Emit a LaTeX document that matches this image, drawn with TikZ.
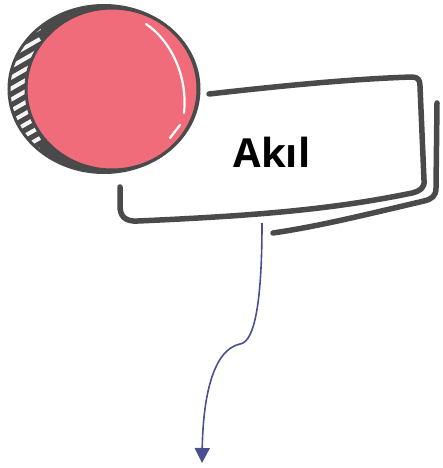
\documentclass[tikz,border=0pt]{standalone}
\usepackage{fontspec}
\setmainfont{Open Sans}
\usetikzlibrary{arrows.meta}
\definecolor{pinkf}{HTML}{F06C7A}
\definecolor{graydk}{HTML}{4A4A4A}
\definecolor{arrowc}{HTML}{4B4F91}
\tikzset{
  frameline/.style={draw=graydk, line width=5.5pt, line cap=round, line join=round},
  conn/.style={draw=arrowc, line width=1.6pt, -{Triangle[length=15pt,width=15pt]}},
}
\begin{document}
\begin{tikzpicture}[x=1pt,y=-1pt]
\useasboundingbox (0,0) rectangle (442,468);
% crescent
\begin{scope}
  \clip (104,89) ellipse [x radius=95, y radius=83.5];
  \fill[graydk] (104,89) ellipse [x radius=95, y radius=83.5];
  \foreach \t in {0,...,18} {
    \draw[white!92!gray, line width=4pt] (0,{\t*11-15}) -- (40,{\t*11-38});
  }
\end{scope}
\draw[graydk, line width=3pt] (104,89) ellipse [x radius=95, y radius=83.5];
% pink ball
\fill[pinkf] (112,89) ellipse [x radius=86, y radius=81];
\draw[graydk, line width=3pt] (112,89) ellipse [x radius=86, y radius=81];
% highlight
\draw[white, line width=2.2pt, line cap=round] (146,24) .. controls (170,40) and (188,75) .. (184,113);
\draw[white, line width=2.2pt, line cap=round] (180,125) -- (170,138);
% frame
\draw[frameline] (209,94) .. controls (280,86) and (350,79) .. (412,77)
  .. controls (418,77) and (420,80) .. (420,86)
  -- (424,180)
  .. controls (425,188) and (420,191) .. (412,193)
  .. controls (330,210) and (250,216) .. (138,221)
  .. controls (124,222) and (120,215) .. (120,206)
  -- (120,187);
\draw[frameline] (437,103) -- (436,188)
  .. controls (436,196) and (432,199) .. (424,201)
  .. controls (360,216) and (320,226) .. (273,233);
% text
\node[font=\bfseries\fontsize{40}{46}\selectfont, anchor=base] (label) at (272,167) {Akıl};
% connector
\coordinate (start) at (262,223);
\coordinate (tip) at (202,463);
\draw[conn] (start) .. controls (262,300) and (255,342) .. (240,344)
  .. controls (212,350) and (203,400) .. (tip);
\end{tikzpicture}
\end{document}
